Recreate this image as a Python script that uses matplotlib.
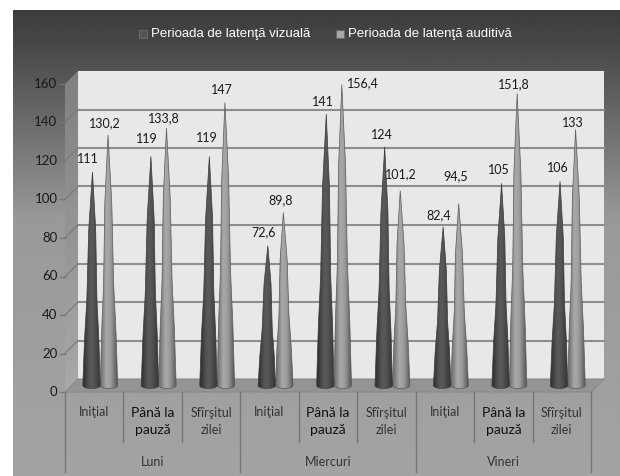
#coding:utf-8
import numpy as np
import matplotlib
matplotlib.use("Agg")
import matplotlib.pyplot as plt
from matplotlib.patches import Polygon, Rectangle

zile = ["Luni", "Miercuri", "Vineri"]
momente = ["Iniţial", "Până la\npauză", "Sfîrşitul\nzilei"]
serii = ["Perioada de latenţă vizuală", "Perioada de latenţă auditivă"]
vizuala = [111, 119, 119, 72.6, 141, 124, 82.4, 105, 106]
auditiva = [130.2, 133.8, 147, 89.8, 156.4, 101.2, 94.5, 151.8, 133]
y_ticks = [0, 20, 40, 60, 80, 100, 120, 140, 160]

# deplasarea etichetelor fata de varful conului, in pixeli
dep_viz = [(-5, 13), (-4, 17), (-3, 18), (-4, 14), (-3, 12), (-3, 12), (-4, 12), (-3, 13), (-2, 13)]
dep_aud = [(-3, 12), (-3, 10), (-3, 13), (-3, 12), (21, 1), (1, 17), (-3, 27), (-3, 9), (-3, 6)]

W, H = 620, 476
fig = plt.figure(figsize=(6.2, 4.76), dpi=100, facecolor="white")

# fundalul cu degrade
bg = fig.add_axes([13 / W, 0, 1 - 13 / W, 1 - 10 / H])
grad = np.interp(np.linspace(0, 1, 300), [0, 0.06, 0.45, 1], [0.24, 0.27, 0.60, 0.64])
bg.imshow(grad[:, None], cmap="gray", vmin=0, vmax=1, aspect="auto", extent=[0, 1, 0, 1])
bg.axis("off")

# axele acopera toata figura, scara e aleasa ca planul median al conurilor sa cada unde trebuie
L, R, B, T = 71.5, 597.5, 385.5, 77.5
ux = (R - L) / 9
px = 160 / (B - T)
ax = fig.add_axes([0, 0, 1, 1])
ax.patch.set_alpha(0)
ax.axis("off")
xlim = (-L / ux, (W - L) / ux)
ylim = ((B - H) * px, B * px)
dx = 6.5 / ux
dy = 6.5 * px


def petic(pts, **kw):
    p = Polygon(pts, closed=True, clip_on=False, **kw)
    ax.add_patch(p)
    return p


# peretele din spate, peretele lateral, podeaua
ax.add_patch(Rectangle((dx, dy), 9, 160, fc="#e8e8e8", ec="none", clip_on=False, zorder=1))
lat = petic([(-dx, -dy), (dx, dy), (dx, 160 + dy), (-dx, 160 - dy)], fc="none", ec="none", zorder=1)
im = ax.imshow(np.linspace(0.50, 0.66, 100)[:, None], cmap="gray", vmin=0, vmax=1, aspect="auto",
               extent=[-dx, dx, -dy, 160 + dy], zorder=1)
im.set_clip_path(lat)
petic([(-dx, -dy), (dx, dy), (9 + dx, dy), (9 - dx, -dy)], fc="#949494", ec="#8a8a8a", lw=0.8, zorder=2)

for v in y_ticks[1:-1]:
    ax.plot([dx, 9 + dx], [v + dy, v + dy], color="#8e8e8e", lw=1.5, clip_on=False, zorder=2)
    ax.plot([-dx, dx], [v - dy, v + dy], color="#787878", lw=0.8, clip_on=False, zorder=2)
ax.plot([9 - dx, 9 + dx], [-dy, dy], color="#8a8a8a", lw=0.8, clip_on=False, zorder=2)

# conurile
ume = np.array([0.20, 0.27, 0.33, 0.35, 0.32, 0.27, 0.22])
uma = np.array([0.46, 0.56, 0.66, 0.64, 0.58, 0.48, 0.36])
raza = 0.149
ell = 3 * px
prof_h = [0, 0.22, 0.40, 0.73, 1]
prof_w = [1, 0.82, 0.58, 0.40, 0]


def con(cx, tip, val, shade, muchie):
    h = np.linspace(0, 1, 30)
    w = raza * np.interp(h, prof_h, prof_w)
    c = cx + (tip - cx) * h
    a = np.linspace(np.pi, 2 * np.pi, 20)
    pts = list(zip(c - w, h * val))[::-1] + [(cx + raza * np.cos(t), ell * np.sin(t)) for t in a] + list(zip(c + w, h * val))
    pol = petic(pts, fc="none", ec="none", zorder=3)
    img = ax.imshow(shade[None, :], cmap="gray", vmin=0, vmax=1, aspect="auto", interpolation="bilinear",
                    extent=[cx - raza, cx + raza, -ell, val], zorder=3)
    img.set_clip_path(pol)
    petic(pts, fc="none", ec=muchie, lw=0.5, zorder=3)


for i in range(9):
    x1 = i + 0.5 - 0.158
    x2 = i + 0.5 + 0.142
    t1 = x1 + 0.017
    t2 = x2 - 0.017
    con(x2, t2, auditiva[i], uma, "#5a5a5a")
    con(x1, t1, vizuala[i], ume, "#3a3a3a")
    ax.annotate(str(vizuala[i]).replace(".", ","), (t1, vizuala[i]), xytext=dep_viz[i], textcoords="offset pixels",
                ha="center", va="center", fontsize=9, family="Lato", color="#1a1a1a", zorder=5, annotation_clip=False)
    ax.annotate(str(auditiva[i]).replace(".", ","), (t2, auditiva[i]), xytext=dep_aud[i], textcoords="offset pixels",
                ha="center", va="center", fontsize=9, family="Lato", color="#1a1a1a", zorder=5, annotation_clip=False)

# axa y
for v in y_ticks:
    ax.plot([-dx - 0.08, -dx], [v - dy, v - dy], color="#777777", lw=1, clip_on=False, zorder=2)
    ax.text(-dx - 0.13, v - dy, str(v), ha="right", va="center", fontsize=9.5, family="Lato", color="#1a1a1a")

# axa x cu doua niveluri
for i in range(10):
    jos = 472 if i % 3 == 0 else 442
    ax.plot([i - dx, i - dx], [-dy, (B - jos) * px], color="#777777", lw=1, clip_on=False, zorder=2)
for i in range(9):
    m = momente[i % 3]
    ax.text(i + 0.5 - dx, (B - (412 if i % 3 == 0 else 421.5)) * px, m, ha="center", va="center",
            fontsize=9 if i % 3 != 1 else 10, family="Lato", color="#111111" if i % 3 == 1 else "#333333",
            linespacing=1.5)
for j, z in enumerate(zile):
    ax.text(3 * j + 1.5 - dx, (B - 462) * px, z, ha="center", va="center", fontsize=9, family="Lato", color="#333333")

ax.set_xlim(xlim)
ax.set_ylim(ylim)

# legenda
for xp, cul, s in zip([139, 336], ["#555555", "#a8a8a8"], serii):
    fig.patches.append(Rectangle((xp / W, 1 - 38 / H), 8 / W, 8 / H, transform=fig.transFigure, fc=cul, ec="#666666", lw=0.8))
    fig.text((xp + 12) / W, 1 - 34 / H, s, ha="left", va="center", fontsize=9.5, family="Liberation Sans", color="white")

plt.savefig("out.png", dpi=100)
